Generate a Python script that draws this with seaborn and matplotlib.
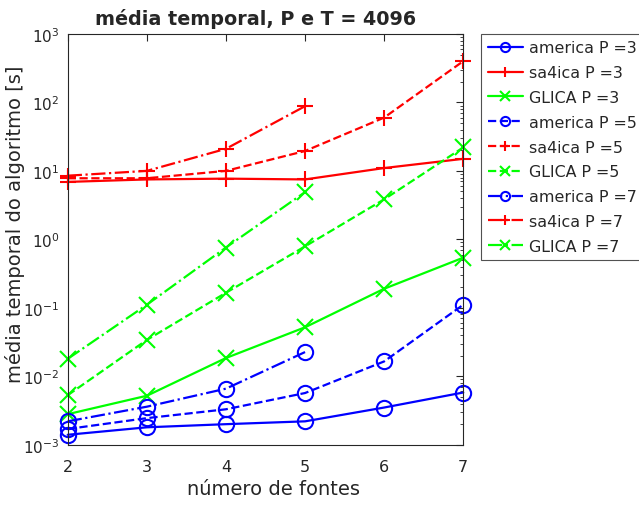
import matplotlib
matplotlib.use("Agg")
import matplotlib.pyplot as plt
import seaborn as sns
import pandas as pd
import numpy as np

# Data (mean run time in seconds)
fontes = [2, 3, 4, 5, 6, 7]

america_p3 = [0.0014, 0.0018, 0.0020, 0.0022, 0.0035, 0.0058]
sa4ica_p3 = [6.9, 7.5, 7.7, 7.5, 11.0, 15.0]
glica_p3 = [0.0028, 0.0052, 0.0185, 0.052, 0.19, 0.54]

america_p5 = [0.0017, 0.00245, 0.0033, 0.0057, 0.0165, 0.111]
sa4ica_p5 = [7.8, 7.8, 10.0, 19.5, 60.0, 400.0]
glica_p5 = [0.0053, 0.034, 0.166, 0.79, 3.84, 22.0]

america_p7 = [0.0022, 0.0036, 0.0066, 0.0226]
sa4ica_p7 = [8.5, 10.0, 21.0, 88.0]
glica_p7 = [0.018, 0.111, 0.76, 4.9]

series = [
    ("america P =3", america_p3, "o", "-"),
    ("sa4ica P =3", sa4ica_p3, "+", "-"),
    ("GLICA P =3", glica_p3, "x", "-"),
    ("america P =5", america_p5, "o", "--"),
    ("sa4ica P =5", sa4ica_p5, "+", "--"),
    ("GLICA P =5", glica_p5, "x", "--"),
    ("america P =7", america_p7, "o", "-."),
    ("sa4ica P =7", sa4ica_p7, "+", "-."),
    ("GLICA P =7", glica_p7, "x", "-."),
]
cores = {"o": (0, 0, 1), "+": (1, 0, 0), "x": (0, 1, 0)}

sns.set_style("white")
plt.rcParams['font.family'] = ['DejaVu Sans']
plt.rcParams['axes.edgecolor'] = '#262626'
plt.rcParams['xtick.color'] = '#262626'
plt.rcParams['ytick.color'] = '#262626'

fig = plt.figure(figsize=(6.39, 5.06), dpi=100)
ax = fig.add_axes([0.106, 0.119, 0.619, 0.812])

for nome, vals, mk, ls in series:
    df = pd.DataFrame({"x": fontes[:len(vals)], "y": vals})
    sns.lineplot(data=df, x="x", y="y", ax=ax, color=cores[mk], linestyle=ls,
                 marker=mk, markersize=11, markerfacecolor='none',
                 markeredgecolor=cores[mk], markeredgewidth=1.5,
                 linewidth=1.6, legend=False, clip_on=False)

ax.set_yscale('log')
ax.set_xlim(2, 7)
ax.set_ylim(1e-3, 1e3)
ax.set_xticks(fontes)
ax.set_yticks([1e-3, 1e-2, 1e-1, 1e0, 1e1, 1e2, 1e3])
ax.tick_params(axis='both', which='both', direction='in', top=True, right=True)
ax.tick_params(axis='x', labelsize=11.5)
ax.tick_params(axis='y', labelsize=11)
ax.tick_params(axis='both', which='major', length=5)
ax.tick_params(axis='x', which='major', pad=10)
ax.tick_params(axis='y', which='major', pad=6)
ax.tick_params(axis='y', which='minor', length=2.5)
ax.tick_params(axis='x', which='minor', bottom=False, top=False)
for s in ax.spines.values():
    s.set_linewidth(0.8)

ax.set_xlabel("número de fontes", fontsize=14, color='#262626')
ax.xaxis.set_label_coords(0.519, -0.083)
ax.set_ylabel("média temporal do algoritmo [s]", fontsize=14, color='#262626')
ax.yaxis.set_label_coords(-0.108, 0.539)
ax.set_title("média temporal, P e T = 4096", fontsize=13.8, fontweight='bold', pad=7, x=0.476)

# legend: small markers like the original
linhas = ax.get_lines()
nomes = [s[0] for s in series]
leg = ax.legend(linhas, nomes, loc='upper left', bbox_to_anchor=(1.046, 1.0), fontsize=11.4,
                frameon=True, fancybox=False, borderaxespad=0, handlelength=2.2,
                handletextpad=0.4, labelspacing=0.62, borderpad=0.4, markerscale=0.6)
leg.get_frame().set_edgecolor('#262626')
leg.get_frame().set_linewidth(0.8)

fig.savefig("out.png", dpi=100)
